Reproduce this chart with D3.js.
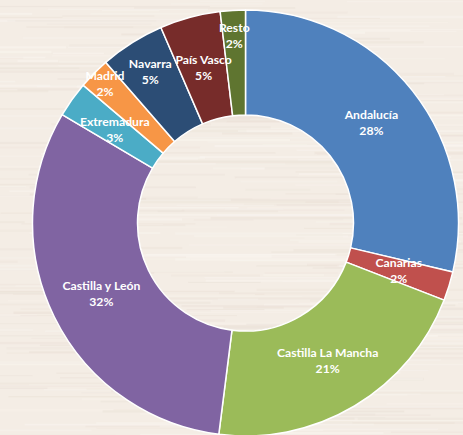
<!DOCTYPE html>
<html>
<head>
<meta charset="utf-8">
<script src="https://cdn.jsdelivr.net/npm/d3@7"></script>
<style>
  html, body { margin: 0; padding: 0; background: #f4ede5; overflow: hidden; }
  svg { display: block; }
</style>
</head>
<body>
<div id="chart"></div>
<script>
// Regiones y su parte (%)
const regions = ["Andalucía", "Canarias", "Castilla La Mancha", "Castilla y León",
  "Extremadura", "Madrid", "Navarra", "País Vasco", "Resto"]
const shares = [28.7, 2.2, 21.1, 31.5, 2.7, 2.4, 4.9, 4.6, 1.9]
const shareLabels = ["28%", "2%", "21%", "32%", "3%", "2%", "5%", "5%", "2%"]
const colors = ["#4f81bd", "#c0504d", "#9bbb59", "#8064a2", "#4bacc6",
  "#f79646", "#2c4d75", "#772c2a", "#5f7530"]

const width = 463, height = 435
const cx = 245.5, cy = 223
const outerR = 213, innerR = 108

// labels that Excel pushed outwards (extra radius in px)
const pushOut = { "Navarra": 18, "Madrid": 37, "Resto": 27 }

const svg = d3.select("#chart").append("svg")
  .attr("width", width)
  .attr("height", height)

// wood-ish background: faint horizontal streaks
let bg = svg.append("g")
bg.append("rect").attr("width", width).attr("height", height).attr("fill", "#f4ede5")
let seed = 7
let rnd = function () {
  seed = (seed * 9301 + 49297) % 233280
  return seed / 233280
}
for (var y = 0; y < height; y += 2) {
  let n = 1 + Math.floor(rnd() * 3)
  for (var k = 0; k < n; k++) {
    let x0 = rnd() * width - 60
    let w = 40 + rnd() * 220
    bg.append("rect")
      .attr("x", x0).attr("y", y + rnd() * 2)
      .attr("width", w).attr("height", 1 + rnd() * 1.5)
      .attr("fill", rnd() < 0.5 ? "#e9dfd5" : "#faf6f1")
      .attr("opacity", 0.2 + rnd() * 0.3)
  }
}

const pie = d3.pie().sort(null).value(d => d)
const arcs = pie(shares)

const arc = d3.arc().innerRadius(innerR).outerRadius(outerR)

const g = svg.append("g").attr("transform", `translate(${cx},${cy})`)

g.selectAll("path")
  .data(arcs)
  .join("path")
  .attr("d", arc)
  .attr("fill", (d, i) => colors[i])
  .attr("stroke", "#ffffff")
  .attr("stroke-width", 1.5)
  .attr("stroke-linejoin", "round")

const labels = g.selectAll("g.lab")
  .data(arcs)
  .join("g")
  .attr("class", "lab")
  .attr("transform", function (d, i) {
    let r = (innerR + outerR) / 2 + (pushOut[regions[i]] || 0)
    let a = (d.startAngle + d.endAngle) / 2
    return `translate(${r * Math.sin(a)},${-r * Math.cos(a)})`
  })

labels.append("text")
  .attr("text-anchor", "middle")
  .attr("y", -4)
  .attr("fill", "#ffffff")
  .style("font-family", "Lato, 'Open Sans', sans-serif")
  .style("font-weight", "bold")
  .style("font-size", "12.2px")
  .text((d, i) => regions[i])

labels.append("text")
  .attr("text-anchor", "middle")
  .attr("y", 12)
  .attr("fill", "#ffffff")
  .style("font-family", "Lato, 'Open Sans', sans-serif")
  .style("font-weight", "bold")
  .style("font-size", "12.2px")
  .text((d, i) => shareLabels[i])
</script>
</body>
</html>
